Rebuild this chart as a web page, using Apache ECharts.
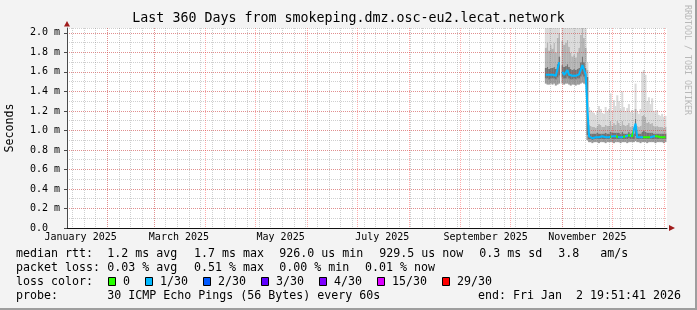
<!DOCTYPE html>
<html><head><meta charset="utf-8">
<script src="https://cdn.jsdelivr.net/npm/echarts@6/dist/echarts.min.js"></script>
<style>html,body{margin:0;padding:0;background:#f3f3f3;}#c{width:697px;height:310px;}</style>
</head><body><div id="c"></div>
<script>
// ---------- data ----------
const titleText = 'Last 360 Days from smokeping.dmz.osc-eu2.lecat.network';
const axisStartUTC = [2025, 0, 7, 19, 51, 41];
const axisEndUTC = [2026, 0, 2, 19, 51, 41];
const firstDataDay = [2025, 9, 22];           // 2025-10-22, one value per day
const monthNames = ['January','February','March','April','May','June','July','August','September','October','November','December'];
const labelMonths = [[2025,0],[2025,2],[2025,4],[2025,6],[2025,8],[2025,10]];
const gridMonths = [[2025,1],[2025,2],[2025,3],[2025,4],[2025,5],[2025,6],[2025,7],[2025,8],[2025,9],[2025,10],[2025,11],[2026,0]];
const firstWeekLine = [2025, 0, 11];
const yMaxMs = 2.05;

// median rtt in ms
const medianMs = [
 1.57,1.58,1.57,1.575,1.57,1.575,1.56,1.58,1.70,null,
 1.60,1.57,1.58,1.62,1.57,1.55,1.56,1.57,1.56,1.57,
 1.575,1.62,1.67,1.62,1.57,1.23,0.94,0.93,0.92,0.93,
 0.93,0.94,0.93,0.93,0.94,0.93,0.93,0.94,0.93,0.95,
 0.94,0.93,0.94,0.93,0.93,0.94,0.93,0.93,0.94,0.93,
 0.95,0.93,0.94,0.93,1.07,0.93,0.94,0.93,0.94,0.93,
 0.94,0.93,0.94,0.93,0.93,0.94,0.93,0.94,0.93,0.93,
 0.94,0.93,0.93];
// loss class per day (index into lossLabels)
const lossClass = [
 1,1,1,1,1,1,1,1,1,1,
 1,1,1,1,1,1,1,1,1,1,
 1,1,1,1,1,1,1,1,1,1,
 1,1,1,1,1,1,1,1,1,0,
 1,1,1,0,1,1,1,0,1,1,
 0,1,0,1,1,1,1,1,1,0,
 0,0,0,1,1,1,0,0,0,0,
 0,0,0];
// smoke percentiles (ms)
const smokeMin = [
 1.48,1.47,1.47,1.48,1.47,1.48,1.46,1.47,1.48,null,
 1.48,1.47,1.48,1.48,1.47,1.46,1.47,1.47,1.46,1.47,
 1.47,1.48,1.49,1.48,1.47,0.90,0.88,0.88,0.87,0.88,
 0.88,0.88,0.87,0.88,0.88,0.88,0.87,0.88,0.88,0.88,
 0.88,0.87,0.88,0.88,0.88,0.87,0.88,0.88,0.88,0.87,
 0.88,0.88,0.88,0.88,0.89,0.88,0.88,0.87,0.88,0.88,
 0.88,0.87,0.88,0.88,0.88,0.88,0.87,0.88,0.88,0.88,
 0.88,0.87,0.88];
const smokeP25 = [
 1.53,1.53,1.52,1.53,1.53,1.53,1.52,1.54,1.56,null,
 1.54,1.53,1.53,1.55,1.53,1.52,1.52,1.53,1.52,1.53,
 1.53,1.55,1.57,1.55,1.53,0.95,0.91,0.91,0.90,0.91,
 0.91,0.91,0.91,0.91,0.91,0.91,0.91,0.91,0.91,0.92,
 0.91,0.91,0.91,0.91,0.91,0.91,0.91,0.91,0.91,0.91,
 0.92,0.91,0.91,0.91,0.94,0.91,0.91,0.91,0.91,0.91,
 0.91,0.91,0.91,0.91,0.91,0.91,0.91,0.91,0.91,0.91,
 0.91,0.91,0.91];
const smokeP75 = [
 1.64,1.65,1.63,1.64,1.64,1.65,1.63,1.68,1.76,null,
 1.67,1.65,1.66,1.68,1.65,1.63,1.62,1.63,1.62,1.63,
 1.64,1.70,1.76,1.70,1.64,1.55,0.98,0.97,0.97,0.97,
 0.97,0.98,0.97,0.97,0.97,0.97,0.98,0.97,0.97,0.99,
 0.98,0.98,0.98,0.98,0.98,0.97,0.99,0.97,0.97,0.97,
 0.99,0.97,0.98,0.97,1.12,0.97,0.97,0.97,0.99,1.00,
 0.99,0.98,0.98,0.98,0.98,0.97,0.97,0.97,0.97,0.97,
 0.97,0.97,0.97];
const smokeP90 = [
 1.85,1.90,1.82,1.88,1.84,1.90,1.80,1.95,2.00,null,
 1.92,1.88,1.90,1.93,1.86,1.80,1.76,1.78,1.75,1.80,
 1.85,1.98,2.05,1.95,1.85,1.62,1.06,1.05,1.04,1.04,
 1.03,1.05,1.07,1.06,1.04,1.04,1.06,1.05,1.05,1.10,
 1.05,1.08,1.06,1.10,1.08,1.05,1.10,1.06,1.05,1.06,
 1.08,1.04,1.05,1.04,1.22,1.05,1.04,1.05,1.15,1.16,
 1.14,1.08,1.09,1.07,1.08,1.05,1.04,1.05,1.04,1.04,
 1.04,1.03,1.04];
const smokeMax = [
 2.3,2.3,2.2,2.3,2.3,2.3,2.2,2.3,2.3,null,
 2.3,2.3,2.3,2.3,2.3,2.2,2.1,2.2,2.1,2.2,
 2.3,2.3,2.3,2.3,2.3,1.70,1.24,1.21,1.19,1.18,
 1.16,1.20,1.25,1.22,1.18,1.17,1.24,1.20,1.22,1.38,
 1.20,1.31,1.25,1.36,1.30,1.22,1.40,1.24,1.20,1.23,
 1.27,1.19,1.21,1.18,1.48,1.20,1.17,1.22,1.60,1.62,
 1.57,1.30,1.34,1.27,1.33,1.20,1.18,1.21,1.16,1.15,
 1.17,1.14,1.15];

const lossLabels = ['0','1/30','2/30','3/30','4/30','15/30','29/30'];
const lossColors = ['#26ff00','#00b8ff','#0059ff','#5e00ff','#7e00ff','#dd00ff','#ff0000'];

const statRtt = ['median rtt:','1.2 ms avg','1.7 ms max','926.0 us min','929.5 us now','0.3 ms sd','3.8   am/s'];
const statLoss = ['packet loss:','0.03 % avg','0.51 % max','0.00 % min','0.01 % now'];
const probeText = ['probe:','30 ICMP Echo Pings (56 Bytes) every 60s','end: Fri Jan  2 19:51:41 2026'];

// ---------- build ----------
const DAY = 86400000;
const FONT = "'DejaVu Sans Mono', monospace";
const axisStart = Date.UTC.apply(null, axisStartUTC);
const axisEnd = Date.UTC.apply(null, axisEndUTC);
const day0 = Date.UTC.apply(null, firstDataDay);
const dayMid = medianMs.map((_, i) => day0 + i * DAY + DAY / 2);
const labelTimes = labelMonths.map(m => Date.UTC(m[0], m[1], 1) + 15 * DAY);
const monthTimes = gridMonths.map(m => Date.UTC(m[0], m[1], 1));
const weekTimes = [];
for (let t = Date.UTC.apply(null, firstWeekLine); t < axisEnd; t += 7 * DAY) weekTimes.push(t);

const pair = (arr) => arr.map((v, i) => [dayMid[i], v]);
const diff = (hi, lo) => hi.map((v, i) => (v == null || lo[i] == null) ? [dayMid[i], null] : [dayMid[i], +(v - lo[i]).toFixed(4)]);

const smokeLayers = [
  { data: pair(smokeMin), color: 'rgba(0,0,0,0)' },
  { data: diff(smokeP25, smokeMin), color: '#9a9a9a' },
  { data: diff(smokeP75, smokeP25), color: '#737373' },
  { data: diff(smokeP90, smokeP75), color: '#b4b4b4' },
  { data: diff(smokeMax, smokeP90), color: '#dadada' }
];
const series = smokeLayers.map((l, k) => ({
  type: 'bar', stack: 'smoke', data: l.data, barWidth: 2, z: 2, xAxisIndex: 0, yAxisIndex: 0,
  itemStyle: { color: l.color }, silent: true, clip: true, animation: false
}));
series.push({
  type: 'line', data: pair(medianMs), showSymbol: false, symbol: 'none', z: 6, xAxisIndex: 0, yAxisIndex: 0,
  lineStyle: { width: 2 }, animation: false, connectNulls: false
});
const pieces = lossClass.map((c, i) => ({ gte: day0 + i * DAY, lt: day0 + (i + 1) * DAY, color: lossColors[c] }));

const gridGray = 'rgba(128,128,128,0.38)';
const gridRed = 'rgba(255,40,40,0.38)';
const xVal = { type: 'value', min: axisStart, max: axisEnd, z: 4, position: 'bottom' };
const yBase = { type: 'value', min: 0, max: yMaxMs, z: 4, position: 'left' };

// graphic texts
const g = [];
const txt = (s, x, y, extra) => Object.assign({ type: 'text', x: x, y: y, silent: true,
  style: Object.assign({ text: s, font: '11.63px ' + FONT, fill: '#000', textVerticalAlign: 'middle' }, extra || {}) });
g.push(txt(titleText, 348.5, 19, { font: '13.3px ' + FONT, textAlign: 'center' }));
const colX = [16, 107.3, 194, 279.3, 379.3, 479.3, 558.3];
statRtt.forEach((s, i) => g.push(txt(s, colX[i], 254.3)));
const colX2 = [16, 107.3, 194, 279.3, 365];
statLoss.forEach((s, i) => g.push(txt(s, colX2[i], 268.3)));
g.push(txt('loss color:', 16, 282.3));
let bx = 108.3;
lossLabels.forEach((s, i) => {
  g.push({ type: 'rect', silent: true, shape: { x: Math.round(bx) + 0.5, y: 277.5, width: 7, height: 8 },
    style: { fill: lossColors[i], stroke: '#000', lineWidth: 1 } });
  g.push(txt(s, bx + 14.7, 282.3));
  bx += 30 + 7 * s.length;
});
g.push(txt(probeText[0], 16, 296));
g.push(txt(probeText[1], 107.3, 296));
g.push(txt(probeText[2], 681, 296, { textAlign: 'right' }));
g.push(txt('Seconds', 10, 128, { textAlign: 'center' }));
g[g.length - 1].rotation = Math.PI / 2;
g.push(txt('RRDTOOL / TOBI OETIKER', 687, 60, { textAlign: 'center', font: '8.3px ' + FONT, fill: '#b8b8b8' }));
g[g.length - 1].rotation = -Math.PI / 2;
// axis arrows and frame
g.push({ type: 'polygon', silent: true, shape: { points: [[64, 26.5], [70, 26.5], [67, 21]] }, style: { fill: '#a01c1c' } });
g.push({ type: 'polygon', silent: true, shape: { points: [[669, 225], [669, 231], [675, 228]] }, style: { fill: '#a01c1c' } });
g.push({ type: 'rect', silent: true, shape: { x: 695, y: 0, width: 2, height: 310 }, style: { fill: '#9e9e9e' } });
g.push({ type: 'rect', silent: true, shape: { x: 0, y: 308, width: 697, height: 2 }, style: { fill: '#9e9e9e' } });

const option = {
  backgroundColor: '#f3f3f3',
  animation: false,
  grid: { left: 67, right: 30, top: 28, bottom: 82, show: true, backgroundColor: '#ffffff', borderWidth: 0 },
  xAxis: [
    { // data axis (time)
      type: 'time', min: axisStart, max: axisEnd, position: 'bottom', z: 4,
      axisLine: { show: true, lineStyle: { color: '#111' } },
      axisTick: { show: false }, splitLine: { show: false }, axisLabel: { show: false }
    },
    Object.assign({}, xVal, {
      axisLine: { show: false }, axisLabel: { show: false },
      axisTick: { show: false, customValues: weekTimes },
      splitLine: { show: true, lineStyle: { color: gridGray, type: [1, 1], width: 1 } }
    }),
    Object.assign({}, xVal, {
      axisLine: { show: false }, axisLabel: { show: false },
      axisTick: { show: false, customValues: monthTimes },
      splitLine: { show: true, lineStyle: { color: gridRed, type: [1, 1], width: 1 } }
    }),
    Object.assign({}, xVal, {
      axisLine: { show: false }, axisTick: { show: false, customValues: labelTimes }, splitLine: { show: false },
      axisLabel: {
        customValues: labelTimes, margin: 4, fontFamily: FONT, fontSize: 10, color: '#000',
        formatter: v => { const d = new Date(v); return monthNames[d.getUTCMonth()] + ' ' + d.getUTCFullYear(); }
      }
    })
  ],
  yAxis: [
    Object.assign({}, yBase, {
      interval: 0.1,
      axisLine: { show: false }, axisTick: { show: false }, axisLabel: { show: false },
      splitLine: { show: true, showMinLine: false, lineStyle: { color: gridGray, type: [1, 1], width: 1 } }
    }),
    Object.assign({}, yBase, {
      interval: 0.2,
      axisLine: { show: true, lineStyle: { color: '#4a4a4a' } },
      axisTick: { show: true, length: 3, lineStyle: { color: '#4a4a4a' } },
      axisLabel: {
        margin: 7, fontFamily: FONT, fontSize: 10, color: '#000', showMaxLabel: false,
        formatter: v => v === 0 ? '0.0  ' : v.toFixed(1) + ' m'
      },
      splitLine: { show: true, showMinLine: false, showMaxLine: false, lineStyle: { color: gridRed, type: [1, 1], width: 1 } }
    })
  ],
  visualMap: { show: false, type: 'piecewise', seriesIndex: 5, dimension: 0, pieces: pieces, outOfRange: { color: lossColors[1] } },
  series: series,
  graphic: g
};
const chart = echarts.init(document.getElementById('c'), null, { renderer: 'canvas' });
chart.setOption(option);
</script></body></html>
